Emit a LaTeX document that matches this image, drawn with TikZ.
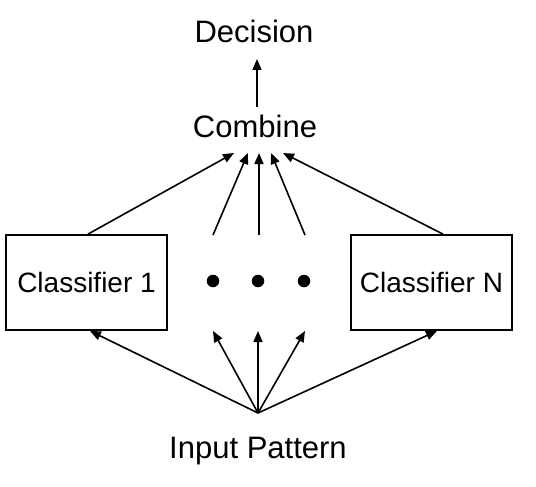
\documentclass[tikz,border=0pt]{standalone}
\usepackage{fontspec}
\setmainfont{Liberation Sans}
\usepackage{tikz}
\usetikzlibrary{arrows.meta}

\begin{document}
\begin{tikzpicture}[x=1pt, y=-1pt,
    lbl/.style={inner sep=0pt, anchor=base, font=\fontsize{31}{37}\selectfont},
    box/.style={draw, line width=1.8pt, minimum width=161pt, minimum height=95pt, inner sep=0pt, font=\fontsize{28}{34}\selectfont},
    dot/.style={circle, fill, inner sep=0pt, minimum size=12.5pt},
    arr/.style={line width=1.6pt, -{Triangle[length=11pt, width=9pt]}}]
        \useasboundingbox (0,0) rectangle (536,487);

        % text labels
        \node[lbl] (decision) at (254,43) {Decision};
        \node[lbl] (combine) at (255,137) {Combine};
        \node[lbl] (input) at (258,458) {Input Pattern};

        % classifiers and dots
        \node[box] (cl1) at (86.5,282.5) {Classifier 1};
        \node[box] (clN) at (431.5,282.5) {Classifier N};
        \node[dot] (dot1) at (213,281) {};
        \node[dot] (dot2) at (258,281) {};
        \node[dot] (dot3) at (304,281) {};

        % free ends
        \coordinate (src) at (258,413);
        \coordinate (up1) at (213,235);
        \coordinate (up2) at (259,235);
        \coordinate (up3) at (305,235);
        \coordinate (dn1) at (213,331);
        \coordinate (dn2) at (258,331);
        \coordinate (dn3) at (305,331);
        \coordinate (in1) at (234,153);
        \coordinate (in2) at (248,153);
        \coordinate (in3) at (259,153);
        \coordinate (in4) at (271,153);
        \coordinate (in5) at (283,153);
        \coordinate (top) at (257,107);
        \coordinate (dec) at (257,59);

        \draw[arr] (top) -- (dec);
        \draw[arr] ([xshift=1.5pt]cl1.north) -- (in1);
        \draw[arr] (up1) -- (in2);
        \draw[arr] (up2) -- (in3);
        \draw[arr] (up3) -- (in4);
        \draw[arr] ([xshift=11.5pt]clN.north) -- (in5);

        \draw[arr] (src) -- ([xshift=3.5pt]cl1.south);
        \draw[arr] (src) -- (dn1);
        \draw[arr] (src) -- (dn2);
        \draw[arr] (src) -- (dn3);
        \draw[arr] (src) -- ([xshift=5.5pt]clN.south);
    \end{tikzpicture}
\end{document}
